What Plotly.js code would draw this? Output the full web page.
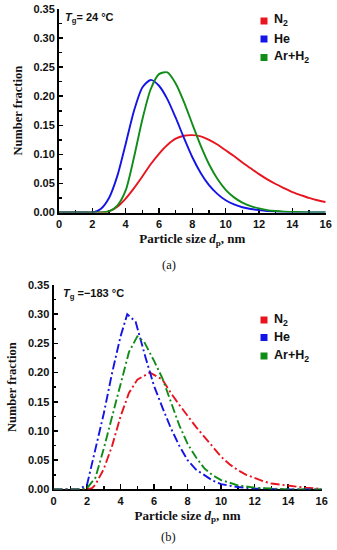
<!DOCTYPE html>
<html>
<head>
<meta charset="utf-8">
<script src="https://cdn.plot.ly/plotly-3.0.1.min.js"></script>
<style>
html,body{margin:0;padding:0;background:#fff;}
#chart{width:337px;height:550px;}
</style>
</head>
<body>
<div id="chart"></div>
<script>
// ---- data: panel (a), Tg = 24 °C ----
var sizeA = [0,0.5,1,1.5,2,2.5,3,3.5,4,4.5,5,5.5,6,6.5,7,7.5,8,8.5,9,9.5,10,10.5,11,11.5,12,12.5,13,13.5,14,14.5,15,15.5,16];
var n2A   = [0,0,0,0,0,0,0.002,0.010,0.024,0.042,0.062,0.083,0.101,0.116,0.127,0.132,0.133,0.131,0.125,0.117,0.107,0.097,0.086,0.076,0.066,0.057,0.049,0.042,0.035,0.030,0.025,0.021,0.018];
var heA   = [0,0,0,0,0,0.006,0.025,0.063,0.118,0.175,0.215,0.228,0.218,0.195,0.163,0.128,0.095,0.068,0.047,0.032,0.021,0.014,0.009,0.006,0.004,0.0025,0.0015,0.001,0.0005,0.0003,0.0002,0.0001,0];
var arA   = [0,0,0,0,0,0,0.002,0.012,0.038,0.095,0.160,0.212,0.238,0.241,0.222,0.190,0.152,0.115,0.083,0.058,0.039,0.026,0.017,0.011,0.007,0.004,0.0025,0.0015,0.001,0.0005,0.0003,0.0001,0];

// ---- data: panel (b), Tg = -183 °C ----
var sizeN2B = [0,1,2,2.3,2.5,3,3.5,4,4.5,5,5.75,6.5,7,7.5,8,8.5,9,9.5,10,10.5,11,11.5,12,12.5,13,14,15,16];
var n2B     = [0,0,0,0.002,0.008,0.035,0.075,0.125,0.165,0.188,0.200,0.188,0.165,0.145,0.125,0.107,0.090,0.072,0.056,0.043,0.033,0.025,0.019,0.014,0.010,0.006,0.003,0.001];
var sizeHeB = [0,1,1.5,2,2.5,3,3.5,4,4.4,4.9,5.5,6,6.5,7,7.5,8,8.5,9,9.5,10,10.5,11,12,13,14,16];
var heB     = [0,0,0,0.008,0.070,0.130,0.200,0.262,0.300,0.287,0.225,0.177,0.140,0.105,0.075,0.050,0.034,0.024,0.015,0.009,0.006,0.004,0.0015,0.0005,0,0];
var sizeArB = [0,1,1.5,2,2.5,3,3.5,4,4.5,5,5.4,6,6.5,7,7.5,8,8.5,9,9.5,10,10.5,11,12,13,14,16];
var arB     = [0,0,0,0.002,0.020,0.070,0.125,0.180,0.235,0.262,0.253,0.220,0.190,0.150,0.110,0.078,0.055,0.036,0.024,0.016,0.011,0.007,0.003,0.001,0,0];

var seriesNames = ['N<sub>2</sub>','He','Ar+H<sub>2</sub>'];
var colors = ['#e8141e','#1414e6','#108c18'];
var tickVals = [0,0.05,0.10,0.15,0.20,0.25,0.30,0.35];
var xTickVals = [0,2,4,6,8,10,12,14,16];

var W = 337, H = 550;
function px(x){return x/W;}
function py(y){return 1-y/H;}

var sansFont = 'Liberation Sans, Arial, sans-serif';
var serifFont = 'Liberation Serif, Times New Roman, serif';

var traces = [];
var topY = [n2A, heA, arA];
for (var i=0;i<3;i++){
  traces.push({x:sizeA, y:topY[i], xaxis:'x', yaxis:'y', type:'scatter', mode:'lines',
    line:{color:colors[i], width:1.9, shape:'spline', smoothing:0.7}, showlegend:false, name:seriesNames[i]});
}
var botX = [sizeN2B, sizeHeB, sizeArB];
var botY = [n2B, heB, arB];
for (var j=0;j<3;j++){
  traces.push({x:botX[j], y:botY[j], xaxis:'x2', yaxis:'y2', type:'scatter', mode:'lines',
    line:{color:colors[j], width:1.9, dash:'9px,3px,2px,3px'}, showlegend:false, name:seriesNames[j]});
}

function xax(domain, anchor){
  return {domain:domain, anchor:anchor, range:[0,16], autorange:false,
    showline:true, linecolor:'#000', linewidth:2, showgrid:false, zeroline:false,
    ticks:'inside', ticklen:5, tickwidth:1.5, tickcolor:'#000',
    tickvals:xTickVals, ticktext:xTickVals.map(function(v){return '<b>'+v+'</b>';}),
    minor:{ticks:'inside', ticklen:3, tickwidth:1.5, tickcolor:'#000', dtick:1, tick0:0, showgrid:false},
    tickfont:{family:sansFont, size:11, color:'#111', weight:700},
    layer:'below traces',
    title:{text:'<b>Particle size <i>d</i><sub>p</sub>, nm</b>', font:{family:serifFont, size:13, color:'#111', weight:700}, standoff:5}
  };
}
function yax(domain, anchor){
  return {domain:domain, anchor:anchor, range:[0,0.35], autorange:false,
    showline:true, linecolor:'#000', linewidth:2, showgrid:false, zeroline:false,
    ticks:'inside', ticklen:4, tickwidth:1.5, tickcolor:'#000',
    tickvals:tickVals, ticktext:tickVals.map(function(v){return '<b>'+v.toFixed(2)+'</b>';}),
    minor:{ticks:'inside', ticklen:2.5, tickwidth:1.5, tickcolor:'#000', dtick:0.025, tick0:0, showgrid:false},
    tickfont:{family:sansFont, size:11, color:'#111', weight:700},
    layer:'below traces',
    title:{text:'<b>Number fraction</b>', font:{family:serifFont, size:12.5, color:'#111', weight:700}, standoff:8}
  };
}

var annotations = [];
var shapes = [];
function addLegend(rowsY){
  for (var k=0;k<3;k++){
    annotations.push({xref:'paper', yref:'paper', x:px(272), y:py(rowsY[k]), xanchor:'left', yanchor:'middle',
      text:'<b>'+seriesNames[k]+'</b>', showarrow:false, font:{family:sansFont, size:12.5, color:'#111', weight:700}});
    shapes.push({type:'rect', xref:'paper', yref:'paper', x0:px(260.5), x1:px(267.5), y0:py(rowsY[k]+4), y1:py(rowsY[k]-3),
      fillcolor:colors[k], line:{width:0}});
  }
}
addLegend([20.5, 38.5, 57]);
addLegend([319.5, 337, 355.5]);

annotations.push({xref:'paper', yref:'paper', x:px(63), y:py(18), xanchor:'left', yanchor:'middle', showarrow:false,
  text:'<b><i>T</i><sub>g</sub>= 24 °C</b>', font:{family:sansFont, size:11, color:'#111', weight:700}});
annotations.push({xref:'paper', yref:'paper', x:px(61), y:py(294), xanchor:'left', yanchor:'middle', showarrow:false,
  text:'<b><i>T</i><sub>g</sub> =\u2212183 °C</b>', font:{family:sansFont, size:11, color:'#111', weight:700}});
annotations.push({xref:'paper', yref:'paper', x:px(169), y:py(265), xanchor:'center', yanchor:'middle', showarrow:false,
  text:'(a)', font:{family:serifFont, size:12.5, color:'#111'}});
annotations.push({xref:'paper', yref:'paper', x:px(168), y:py(537), xanchor:'center', yanchor:'middle', showarrow:false,
  text:'(b)', font:{family:serifFont, size:12.5, color:'#111'}});

var layout = {
  width:W, height:H,
  margin:{l:0, r:0, t:0, b:0},
  paper_bgcolor:'#fff', plot_bgcolor:'rgba(0,0,0,0)',
  showlegend:false,
  xaxis: xax([px(59), px(325.7)], 'y'),
  yaxis: yax([py(212.5), py(9)], 'x'),
  xaxis2: xax([px(53.5), px(321.7)], 'y2'),
  yaxis2: yax([py(489.4), py(285)], 'x2'),
  annotations: annotations,
  shapes: shapes
};

Plotly.newPlot('chart', traces, layout, {displayModeBar:false, staticPlot:true});
</script>
</body>
</html>
